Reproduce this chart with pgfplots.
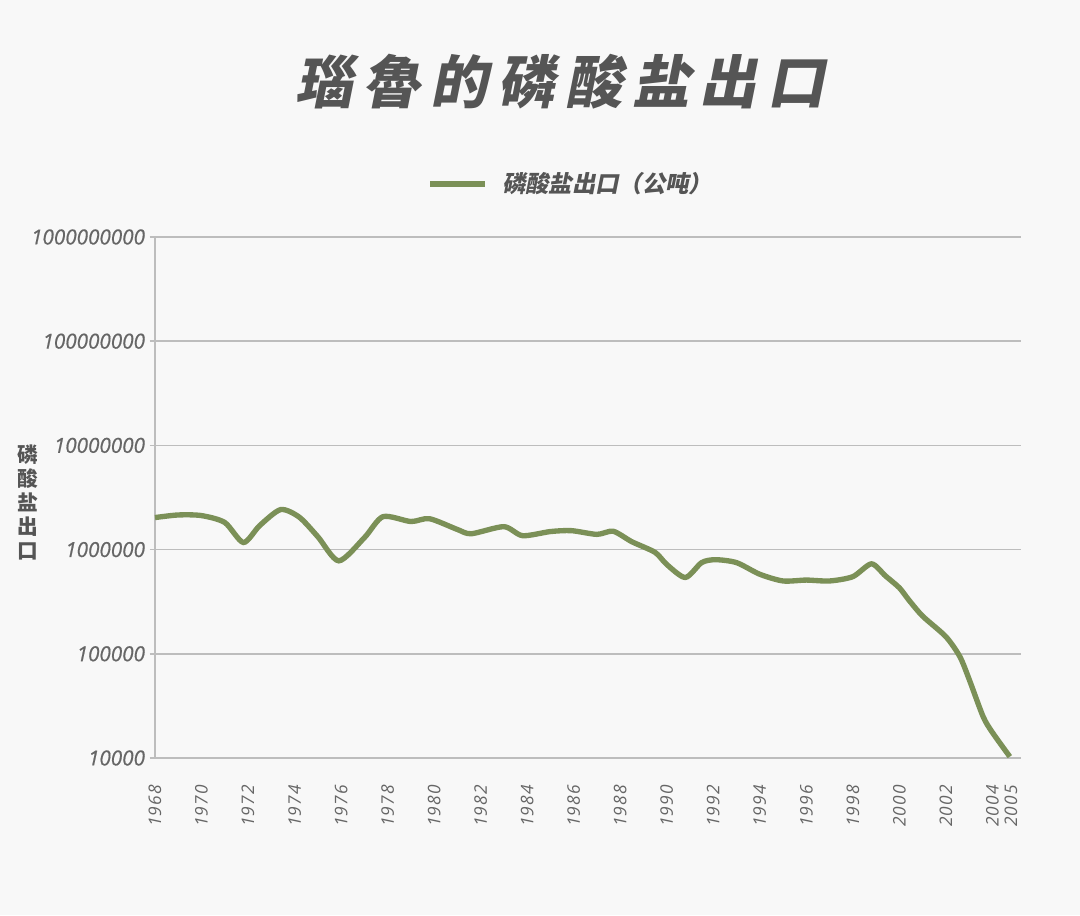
\documentclass[border=0pt]{standalone}
\usepackage{fontspec}
\setmainfont{Open Sans}
\newfontfamily\tickfont{Open Sans}[ItalicFeatures={FakeBold=0.6}]
\newfontfamily\xtickfont{Open Sans}[LetterSpace=6]
\newfontfamily\cjkslant{Noto Sans CJK SC}[FakeSlant=0.2]
\newfontfamily\cjk{Noto Sans CJK SC}
\usepackage{pgfplots}
\pgfplotsset{compat=1.18}
\definecolor{bg}{HTML}{F8F8F8}
\definecolor{linegreen}{HTML}{7B9057}
\definecolor{txt}{HTML}{555555}
\definecolor{ticktxt}{HTML}{666666}
\definecolor{gridc}{HTML}{BDBDBD}
\begin{document}
\begin{tikzpicture}
\fill[bg] (0,0) rectangle (810pt,686.25pt);
\useasboundingbox (0,0) rectangle (810pt,686.25pt);
\begin{axis}[
  at={(116.25pt,117.75pt)}, anchor=south west,
  scale only axis, width=649.5pt, height=390.75pt,
  ymode=log, ymin=1e4, ymax=1e9, xmin=1968, xmax=2005.23,
  axis x line=bottom, axis y line=left,
  axis line style={gridc, line width=1.1pt, -},
  ytick={1e4,1e5,1e6,1e7,1e8,1e9},
  yticklabels={10000,100000,1000000,10000000,100000000,1000000000},
  yminorticks=false,
  ymajorgrids, major grid style={gridc, line width=1.1pt},
  xtick={1968,1970,1972,1974,1976,1978,1980,1982,1984,1986,1988,1990,1992,1994,1996,1998,2000,2002,2004,2004.8},
  xticklabels={1968,1970,1972,1974,1976,1978,1980,1982,1984,1986,1988,1990,1992,1994,1996,1998,2000,2002,2004,2005},
  tick align=outside,
  ytick style={gridc, line width=1.1pt},
  major tick length=4pt,
  xtick style={draw=none},
  yticklabel style={font=\tickfont\itshape\fontsize{15.5}{18}\selectfont, text=ticktxt},
  xticklabel style={font=\xtickfont\itshape\fontsize{13}{14}\selectfont, text=ticktxt, rotate=90, anchor=east, xshift=-13pt},
  clip=false,
]
\addplot[linegreen, line width=4pt, smooth, tension=0.45] coordinates {
(1968,2030000) (1969,2150000) (1970,2120000) (1971,1820000) (1971.8,1170000)
(1972.5,1700000) (1973.4,2420000) (1974.2,2050000) (1975,1330000) (1975.9,780000)
(1977,1300000) (1977.8,2070000) (1979,1860000) (1979.8,1980000) (1981,1560000)
(1981.6,1420000) (1983,1660000) (1983.8,1360000) (1985,1490000) (1985.9,1520000)
(1987,1400000) (1987.7,1500000) (1988.5,1190000) (1989.5,940000) (1990,720000)
(1990.8,540000) (1991.5,750000) (1992.1,800000) (1993,750000) (1994,580000)
(1995,500000) (1996,510000) (1997,500000) (1998,550000) (1998.8,730000)
(1999.4,560000) (2000,430000) (2000.4,330000) (2001,230000) (2002,146000)
(2002.6,94000) (2003,57000) (2003.6,25000) (2004,17600) (2004.75,10300)
};
\end{axis}
\node[font=\cjkslant\bfseries\fontsize{43}{50}\selectfont, text=txt] at (420pt,624.75pt)
  {瑙\hspace{7.6pt}魯\hspace{7.6pt}的\hspace{7.6pt}磷\hspace{7.6pt}酸\hspace{7.6pt}盐\hspace{7.6pt}出\hspace{7.6pt}口};
\draw[linegreen, line width=4.5pt] (322.5pt,548.25pt) -- (363.75pt,548.25pt);
\node[anchor=west, inner sep=0pt, font=\cjkslant\bfseries\fontsize{17.5}{20}\selectfont, text=txt] at (376.5pt,548.25pt) {磷酸盐出口（公吨）};
\node[align=center, inner sep=0pt, font=\cjk\bfseries\fontsize{15.5}{18}\selectfont, text=txt] at (20.6pt,309.75pt) {磷\\酸\\盐\\出\\口};
\end{tikzpicture}
\end{document}
